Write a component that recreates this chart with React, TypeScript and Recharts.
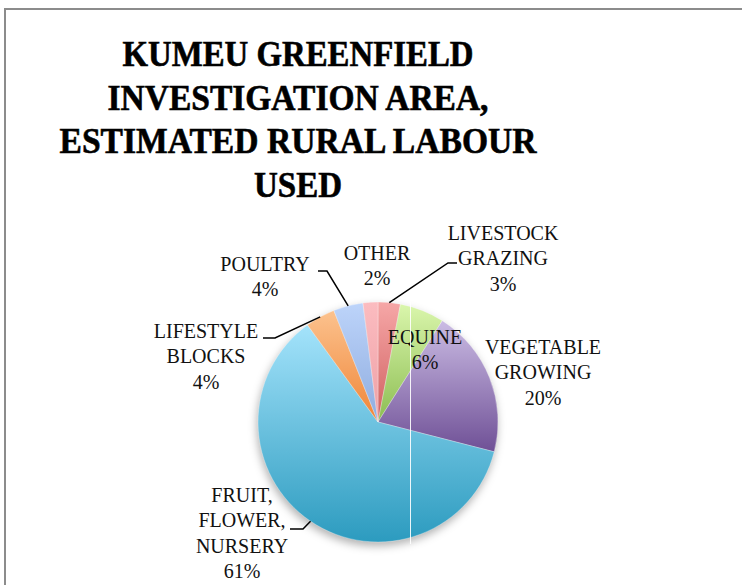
import React from "react";
import { PieChart, Pie, Cell } from "recharts";

// Values (Excel order, clockwise from 12 o'clock)
const categories = [
  ["LIVESTOCK", "GRAZING"],
  ["EQUINE"],
  ["VEGETABLE", "GROWING"],
  ["FRUIT,", "FLOWER,", "NURSERY"],
  ["LIFESTYLE", "BLOCKS"],
  ["POULTRY"],
  ["OTHER"],
];
const shares = [3, 6, 20, 61, 4, 4, 2];

const titleLines = [
  "KUMEU GREENFIELD",
  "INVESTIGATION AREA,",
  "ESTIMATED RURAL LABOUR",
  "USED",
];

const data = categories.map((lines, i) => ({
  name: lines.join(" "),
  lines,
  value: shares[i],
}));

// gradient top -> bottom for each slice
const GRADS = [
  ["#f6a7a7", "#cf5f5f"],
  ["#daf6ac", "#8cbd52"],
  ["#cbbce4", "#6f5096"],
  ["#a4e3fb", "#2c9bbf"],
  ["#fcc28e", "#ef8537"],
  ["#bdd4fa", "#8eacdf"],
  ["#fbbcc0", "#eea0a6"],
];

// label text anchor (relative to pie centre) and leader line bends
const LABEL_POS: { dx: number; dy: number; leader?: [number, number][] }[] = [
  { dx: 125, dy: -182, leader: [[70, -159], [79, -159]] },
  { dx: 47, dy: -78 },
  { dx: 165, dy: -68 },
  { dx: -136, dy: 80, leader: [[-75, 107], [-88, 107]] },
  { dx: -172, dy: -84, leader: [[-103, -84], [-115, -84]] },
  { dx: -113, dy: -151, leader: [[-51, -151], [-60, -151]] },
  { dx: -1, dy: -162 },
];

const RADIAN = Math.PI / 180;
const LINE_H = 25.3;

const renderLabel = (props: any) => {
  const { cx, cy, midAngle, outerRadius, index } = props;
  const d = data[index];
  const pos = LABEL_POS[index];
  const tx = cx + pos.dx;
  const ty = cy + pos.dy;
  const ex = cx + outerRadius * Math.cos(-midAngle * RADIAN);
  const ey = cy + outerRadius * Math.sin(-midAngle * RADIAN);
  const lines = [...d.lines, `${d.value}%`];
  return (
    <g key={`lbl-${index}`}>
      {pos.leader && (
        <polyline
          points={[[ex, ey], ...pos.leader.map(([x, y]) => [cx + x, cy + y])]
            .map((p) => p.join(","))
            .join(" ")}
          fill="none"
          stroke="#000"
          strokeWidth={1.5}
        />
      )}
      <text
        x={tx}
        y={ty}
        textAnchor="middle"
        fontFamily="'Liberation Serif', serif"
        fontSize={20}
        fill="#111"
      >
        {lines.map((l, i) => (
          <tspan key={i} x={tx} dy={i === 0 ? 0 : LINE_H}>
            {l}
          </tspan>
        ))}
      </text>
    </g>
  );
};

const TITLE_W = [351, 381, 477, 88];

export default function App() {
  return (
    <div
      style={{
        position: "absolute",
        left: 0,
        top: 0,
        width: 742,
        height: 585,
        background: "#fff",
        overflow: "hidden",
      }}
    >
      <style>{`.recharts-pie { filter: drop-shadow(-1px 4px 4px rgba(0,0,0,0.3)); }`}</style>
      <div
        style={{
          position: "absolute",
          left: 4,
          top: 8,
          width: 760,
          height: 600,
          borderTop: "2px solid #8c8c8c",
          borderLeft: "2px solid #8c8c8c",
        }}
      />
      <svg
        width={742}
        height={230}
        style={{ position: "absolute", left: 0, top: 0 }}
      >
        {titleLines.map((t, i) => (
          <text
            key={t}
            x={298}
            y={66 + i * 43.7}
            textAnchor="middle"
            fontFamily="'Liberation Serif', serif"
            fontWeight="bold"
            fontSize={35}
            textLength={TITLE_W[i]}
            lengthAdjust="spacingAndGlyphs"
            fill="#000"
            stroke="#000"
            strokeWidth={0.6}
          >
            {t}
          </text>
        ))}
      </svg>
      <div style={{ position: "absolute", left: 0, top: 0 }}>
        <PieChart
          width={742}
          height={585}
          margin={{ top: 0, right: 0, bottom: 0, left: 0 }}
        >
          <defs>
            {GRADS.map(([a, b], i) => (
              <linearGradient key={i} id={`slice${i}`} x1="0" y1="0" x2="0" y2="1">
                <stop offset="0%" stopColor={a} />
                <stop offset="100%" stopColor={b} />
              </linearGradient>
            ))}
          </defs>
          <Pie
            data={data}
            dataKey="value"
            nameKey="name"
            cx={378}
            cy={422}
            outerRadius={120}
            startAngle={90}
            endAngle={-270}
            stroke="rgba(255,255,255,0.5)"
            strokeWidth={0.6}
            label={renderLabel}
            labelLine={false}
            isAnimationActive={false}
          >
            {data.map((d, i) => (
              <Cell key={d.name} fill={`url(#slice${i})`} />
            ))}
          </Pie>
        </PieChart>
      </div>
      <div
        style={{
          position: "absolute",
          left: 410,
          top: 302,
          width: 1,
          height: 242,
          background: "rgba(255,255,255,0.9)",
        }}
      />
    </div>
  );
}
